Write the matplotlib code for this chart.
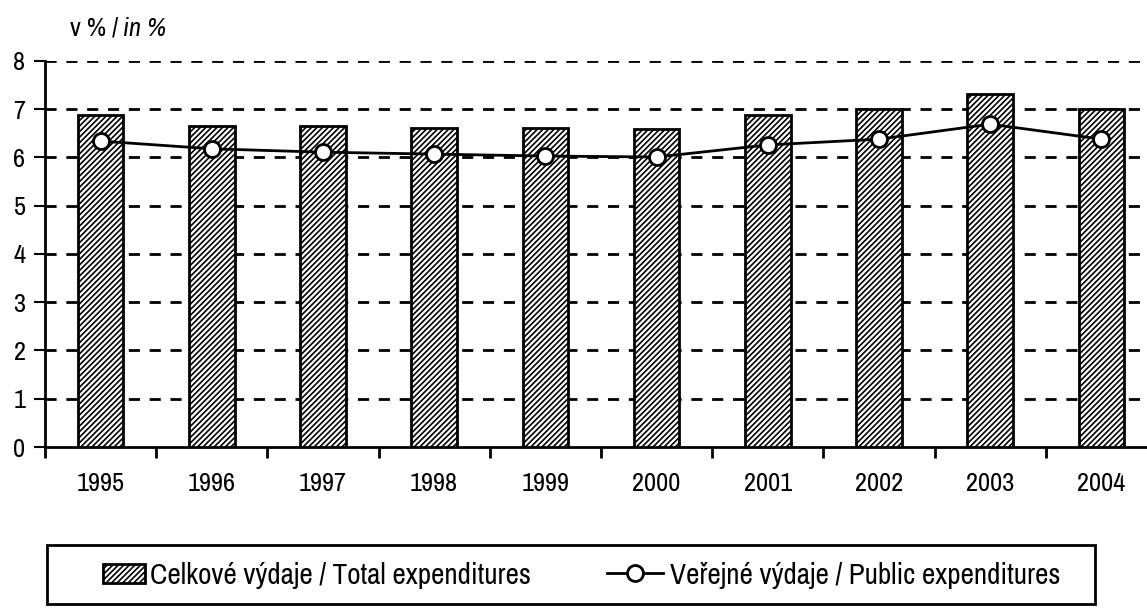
import matplotlib.pyplot as plt
import matplotlib.patches as mpatches
import numpy as np

# Data
years = ['1995', '1996', '1997', '1998', '1999', '2000', '2001', '2002', '2003', '2004']
total_exp = [6.88, 6.65, 6.65, 6.61, 6.61, 6.59, 6.88, 7.00, 7.32, 7.00]
public_exp = [6.34, 6.18, 6.11, 6.07, 6.03, 6.01, 6.26, 6.38, 6.69, 6.38]

plt.rcParams['font.family'] = ['Archivo Narrow', 'Liberation Sans', 'DejaVu Sans']
plt.rcParams['hatch.linewidth'] = 1.2
plt.rcParams['hatch.color'] = '#333333'

fig = plt.figure(figsize=(11.47, 6.08), dpi=100)
# axes runs slightly past the right edge, like the original
ax = fig.add_axes([0.0392, 0.2648, 0.9695, 0.6349])

x = np.arange(len(years))

bars = ax.bar(x, total_exp, width=0.41, color='white', edgecolor='black', linewidth=2,
              hatch='//////', label='Celkové výdaje / Total expenditures', zorder=3)
line, = ax.plot(x, public_exp, color='black', linewidth=2, marker='o', markersize=11.5,
                markerfacecolor='white', markeredgecolor='black', markeredgewidth=2,
                label='Veřejné výdaje / Public expenditures', zorder=4)

ax.set_xlim(-0.5, len(years) - 0.5)
ax.set_ylim(0, 8)
ax.set_yticks(range(0, 9))

# dashed grid lines
for yv in range(1, 9):
    ax.axhline(yv, color='black', linewidth=2, linestyle=(0, (4, 3.5)), zorder=1)

ax.spines['top'].set_visible(False)
ax.spines['right'].set_visible(False)
ax.spines['left'].set_linewidth(2)
ax.spines['bottom'].set_linewidth(2)

# category labels in the middle, tick marks between categories
ax.set_xticks(np.arange(-0.5, len(years), 1.0))
ax.set_xticklabels([])
ax.set_xticks(x, minor=True)
ax.set_xticklabels(years, minor=True, fontsize=19)
ax.tick_params(axis='x', which='minor', length=0, pad=18)
ax.tick_params(axis='x', which='major', length=8, width=2, direction='out')
ax.tick_params(axis='y', length=8, width=1.5, direction='out', labelsize=19, pad=6)

fig.text(0.061, 0.935, 'v % /', fontsize=19, ha='left', va='bottom')
fig.text(0.107, 0.935, 'in %', fontsize=19, style='italic', ha='left', va='bottom')

# legend frame drawn separately, entries placed like in the original
frame = mpatches.Rectangle((0.041, 0.0066), 0.9137, 0.097, transform=fig.transFigure,
                           fill=False, edgecolor='black', linewidth=2)
fig.add_artist(frame)

leg_kw = dict(loc='center left', fontsize=21, frameon=False,
              borderpad=0, borderaxespad=0)
leg1 = fig.legend(handles=[bars], bbox_to_anchor=(0.0898, 0.054), handlelength=1.45,
                  handleheight=0.6, handletextpad=0.17, **leg_kw)
leg2 = fig.legend(handles=[line], bbox_to_anchor=(0.529, 0.054), handlelength=1.93,
                  handletextpad=0.24, **leg_kw)

fig.savefig('out.png', dpi=100)
